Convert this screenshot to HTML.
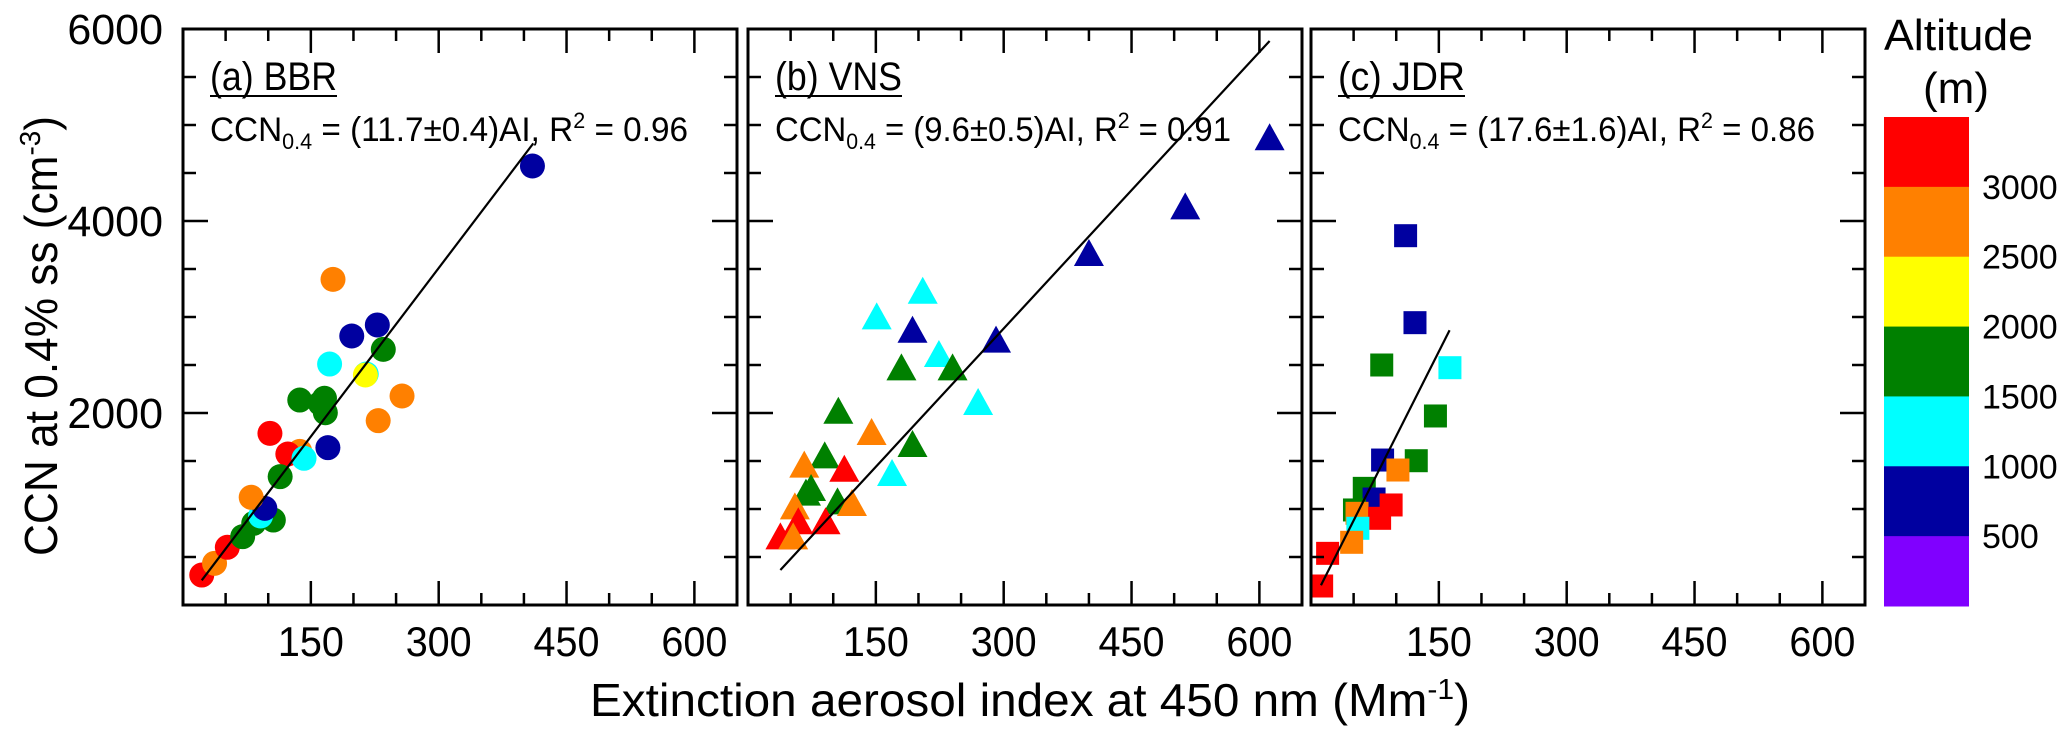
<!DOCTYPE html>
<html><head><meta charset="utf-8"><style>
html,body{margin:0;padding:0;background:#fff;}
svg{display:block;font-family:"Liberation Sans",sans-serif;}
</style></head><body>
<svg id="chart" width="2067" height="735" viewBox="0 0 2067 735">
<g id="panels"></g>
<text transform="translate(57,336) rotate(-90)" text-anchor="middle" font-size="46" textLength="440" lengthAdjust="spacingAndGlyphs">CCN at 0.4% ss (cm<tspan font-size="29" dy="-17">-3</tspan><tspan dy="17">)</tspan></text>
<text x="590" y="716" font-size="46" textLength="880" lengthAdjust="spacingAndGlyphs">Extinction aerosol index at 450 nm (Mm<tspan font-size="29" dy="-17">-1</tspan><tspan dy="17">)</tspan></text>
<g id="cbar">
<text x="1884" y="50" font-size="44" textLength="149" lengthAdjust="spacingAndGlyphs">Altitude</text>
<text x="1956" y="103" font-size="44" text-anchor="middle">(m)</text>
</g>
</svg>
<script>
// ---- data ----
const xTicks = [150, 300, 450, 600];
const yTicks = [2000, 4000, 6000];
const altLabels = ["3000","2500","2000","1500","1000","500"];
const altColors = ["#ff0000","#ff8000","#ffff00","#008000","#00ffff","#0000a0","#8000ff"];
const panelNames = ["(a) BBR","(b) VNS","(c) JDR"];
const slopes = [11.7, 9.6, 17.6];
const slopeErr = ["0.4","0.5","1.6"];
const r2 = ["0.96","0.91","0.86"];
const fitRange = [[22,411],[38,612],[11.7,162.6]];
// panel a (circles): x, y, color index
const aX = [410,176,228,198,235,172,215,214,257,137,166,161,167,229,102,170,137,123,142,114,22,37,52,70,83,106,91,96,80];
const aY = [4573,3392,2917,2802,2663,2510,2406,2396,2177,2135,2153,2100,2003,1920,1788,1639,1600,1573,1528,1337,312,434,601,712,851,885,927,1007,1122];
const aC = [5,1,5,5,3,4,4,2,1,3,3,3,3,1,0,5,1,0,4,3,0,1,0,3,3,3,4,5,1];
// panel b (triangles)
const bX = [612,513,400,205,151,193,291,224,180,240,270,106,145,193,90,66,113,169,74,68,105,122,55,59,91,38,53];
const bY = [4851,4132,3646,3253,2986,2847,2743,2594,2455,2455,2094,2003,1781,1656,1538,1441,1399,1354,1198,1150,1059,1042,1007,851,851,694,694];
const bC = [5,5,5,4,4,5,5,4,3,3,4,3,1,3,3,1,0,4,3,3,3,1,1,0,0,0,1];
// panel c (squares)
const cX = [111,122,83,163,146,123.5,84,102,62.5,74,94,51,54,80.5,55,47.7,19.5,12.5];
const cY = [3847,2941,2500,2472,1969,1503,1510,1406,1215,1104,1042,990,955,903,799,653,538,198];
const cC = [5,5,3,4,3,3,5,1,3,5,0,3,1,0,4,1,0,0];

const NS = "http://www.w3.org/2000/svg";
const lefts = [183, 748, 1311];
const W = 554, TOP = 29, BOT = 605, XMAX = 650, YMAX = 6000;
function mk(tag, attrs, parent){const e=document.createElementNS(NS,tag);for(const k in attrs)e.setAttribute(k,attrs[k]);parent.appendChild(e);return e;}
const root = document.getElementById("panels");
const sets = [[aX,aY,aC,"circle"],[bX,bY,bC,"triangle"],[cX,cY,cC,"square"]];
lefts.forEach((L,p)=>{
  const sx = v => L + v*W/XMAX;
  const sy = v => BOT - v*(BOT-TOP)/YMAX;
  const g = mk("g",{},root);
  
  
  const [X,Y,C,shape] = sets[p];
  for(let i=0;i<X.length;i++){
    const cx=sx(X[i]), cy=sy(Y[i]), col=altColors[C[i]];
    let m;
    if(shape==="circle") m=mk("circle",{cx:cx,cy:cy,r:12.5,fill:col},g);
    else if(shape==="triangle") m=mk("polygon",{points:`${cx},${cy-16} ${cx-15},${cy+11} ${cx+15},${cy+11}`,fill:col},g);
    else m=mk("rect",{x:cx-11.5,y:cy-11.5,width:23,height:23,fill:col},g);
    
    
  }
  const fl = mk("line",{x1:sx(fitRange[p][0]),y1:sy(fitRange[p][0]*slopes[p]),x2:sx(fitRange[p][1]),y2:sy(fitRange[p][1]*slopes[p]),stroke:"#000","stroke-width":2.2},g);
  
  
  const fr = mk("rect",{x:L,y:TOP,width:W,height:BOT-TOP,fill:"none",stroke:"#000","stroke-width":3},g);
  
  
  for(let v=50; v<XMAX; v+=50){
    const major = v%150===0, len = major?24:12, x=sx(v);
    mk("line",{x1:x,y1:BOT,x2:x,y2:BOT-len,stroke:"#000","stroke-width":2.5},g);
    mk("line",{x1:x,y1:TOP,x2:x,y2:TOP+len,stroke:"#000","stroke-width":2.5},g);
  }
  for(let v=500; v<YMAX; v+=500){
    const major = v%2000===0, len = major?25:13, y=sy(v);
    mk("line",{x1:L,y1:y,x2:L+len,y2:y,stroke:"#000","stroke-width":2.5},g);
    mk("line",{x1:L+W,y1:y,x2:L+W-len,y2:y,stroke:"#000","stroke-width":2.5},g);
  }
  xTicks.forEach(v=>{
    const t = mk("text",{x:sx(v),y:656,"font-size":42,"text-anchor":"middle",textLength:66,lengthAdjust:"spacingAndGlyphs"},g);
    t.textContent = v;
    
    
  });
  if(p===0){
    yTicks.forEach(v=>{
      const t = mk("text",{x:163,y:sy(v)+15,"font-size":43,"text-anchor":"end"},g);
      t.textContent = v;
      
      
    });
  }
  const tt = mk("text",{x:L+27,y:90,"font-size":40,textLength:127,lengthAdjust:"spacingAndGlyphs"},g);
  tt.textContent = panelNames[p];
  
  
  mk("line",{x1:L+27,y1:96,x2:L+154,y2:96,stroke:"#000","stroke-width":2},g);
  const eqLen = [478,456,477][p];
  const eq = mk("text",{x:L+27,y:141,"font-size":34,textLength:eqLen,lengthAdjust:"spacingAndGlyphs"},g);
  
  
  eq.innerHTML = `CCN<tspan font-size="22" dy="8">0.4</tspan><tspan dy="-8"> = (${slopes[p].toFixed(1)}±${slopeErr[p]})AI,  R</tspan><tspan font-size="22" dy="-13">2</tspan><tspan dy="13"> = ${r2[p]}</tspan>`;
});
const cb = document.getElementById("cbar");
const cbTop = 117, cbBot = 606, seg = (cbBot-cbTop)/altColors.length;
altColors.forEach((c,i)=>{
  const r = mk("rect",{x:1884,y:cbTop+i*seg,width:85,height:seg+0.5,fill:c},cb);
  
  
});
altLabels.forEach((l,i)=>{
  const t = mk("text",{x:1982,y:cbTop+(i+1)*seg+12,"font-size":34},cb);
  t.textContent = l;
  
  
});
</script>
</body></html>
